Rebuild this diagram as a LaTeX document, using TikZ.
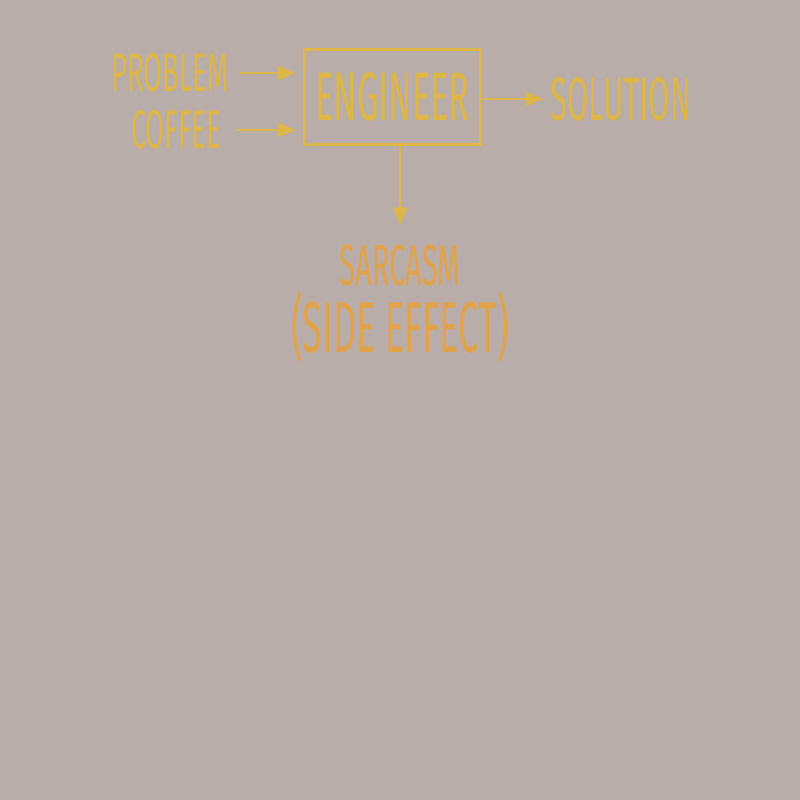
\documentclass[tikz,border=0pt]{standalone}
\usepackage{fontspec}
\newfontfamily\sketchfont[FakeStretch=0.5]{Fira Sans}
\usetikzlibrary{arrows.meta}
\definecolor{bgtaupe}{HTML}{B9ADAA}
\definecolor{mustard}{HTML}{DDB646}
\definecolor{amber}{HTML}{E2A24A}
\begin{document}
\begin{tikzpicture}[x=0.01cm, y=-0.01cm, font=\sketchfont,
    word/.style={text=mustard, inner sep=0pt},
    flow/.style={draw=mustard, line width=0.55pt, -{Triangle[length=5pt, width=4pt]}}]
    \fill[bgtaupe] (0,0) rectangle (800,800);
    \useasboundingbox (0,0) rectangle (800,800);

    % inputs
    \node[word, font=\sketchfont\fontsize{15.5}{16}\selectfont] (problem) at (170,73) {PROBLEM};
    \node[word, font=\sketchfont\fontsize{15.5}{16}\selectfont] (coffee) at (176,130) {COFFEE};

    % the box
    \node[word, draw=mustard, line width=0.85pt, minimum width=1.75cm, minimum height=0.94cm,
          font=\sketchfont\fontsize{19.5}{20}\selectfont] (engineer) at (392.5,97) {ENGINEER};

    % outputs
    \node[word, font=\sketchfont\fontsize{17.5}{18}\selectfont] (solution) at (621,99) {SOLUTION};
    \node[word, text=amber, font=\sketchfont\fontsize{16.5}{17}\selectfont] (sarcasm) at (400,266) {SARCASM};
    \node[word, text=amber, font=\sketchfont\fontsize{20.5}{21}\selectfont] (sideeffect) at (400,327) {(SIDE EFFECT)};

    \draw[flow, shorten <=2.8pt, shorten >=2.3pt] (problem.east) -- (problem.east -| engineer.west);
    \draw[flow, shorten <=4pt, shorten >=2.3pt] (coffee.east) -- (coffee.east -| engineer.west);
    \draw[flow, shorten >=2pt] (engineer.east |- solution.west) -- (solution.west);
    \draw[flow, shorten >=5.6pt] (engineer.south -| sarcasm.north) -- (sarcasm.north);
\end{tikzpicture}
\end{document}
